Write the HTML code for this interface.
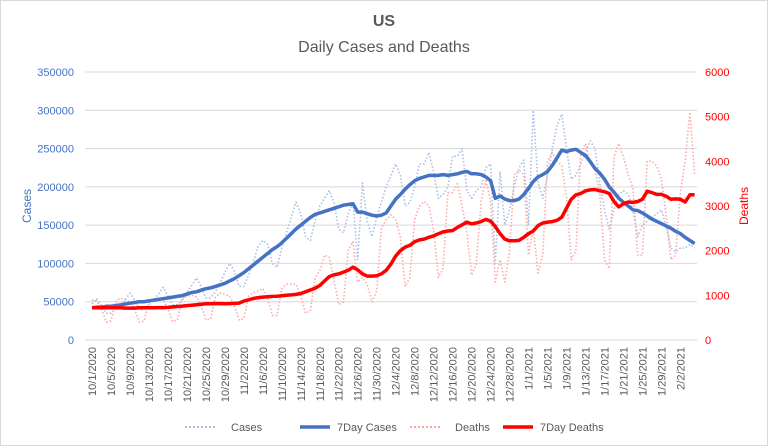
<!DOCTYPE html>
<html><head><meta charset="utf-8"><style>
body{margin:0;background:#fff;}
svg{display:block;font-family:"Liberation Sans",sans-serif;}
</style></head><body>
<svg id="chart" width="768" height="446" viewBox="0 0 768 446">
<rect x="0.5" y="0.5" width="767" height="445" fill="#fff" stroke="#d9d9d9"/>
<text x="384" y="26" text-anchor="middle" font-size="16" font-weight="bold" fill="#595959">US</text>
<text x="384" y="52" text-anchor="middle" font-size="16" fill="#595959">Daily Cases and Deaths</text>
<text transform="translate(31,206) rotate(-90)" text-anchor="middle" font-size="12" fill="#4472C4">Cases</text>
<text transform="translate(748,206) rotate(-90)" text-anchor="middle" font-size="12" fill="#FF0000">Deaths</text>
<g id="grid"></g><g id="xlabels"></g><g id="series"></g>
<g>
<line x1="185" y1="427" x2="215" y2="427" stroke="#A9BEE8" stroke-width="2" stroke-dasharray="2,2"/>
<text x="231" y="431" font-size="11" fill="#595959">Cases</text>
<line x1="300" y1="427" x2="330" y2="427" stroke="#4472C4" stroke-width="3.5"/>
<text x="337" y="431" font-size="11" fill="#595959">7Day Cases</text>
<line x1="410" y1="427" x2="440" y2="427" stroke="#FFA8A8" stroke-width="2" stroke-dasharray="2,2"/>
<text x="455" y="431" font-size="11" fill="#595959">Deaths</text>
<line x1="503" y1="427" x2="533" y2="427" stroke="#FF0000" stroke-width="3.5"/>
<text x="540" y="431" font-size="11" fill="#595959">7Day Deaths</text>
</g>
</svg>
<script>
const leftTicks=[0,50000,100000,150000,200000,250000,300000,350000];
const rightTicks=[0,1000,2000,3000,4000,5000,6000];
const months=[10,10,10,10,10,10,10,10,11,11,11,11,11,11,11,11,12,12,12,12,12,12,12,12,1,1,1,1,1,1,1,1,2,2];
const startLabel="10/1/2020";
const casesAvgK=[42,43,43,44,44,45,46,47,48,49,50,50,51,52,53,54,55,56,57,58,60,62,63,65,67,68,70,72,74,77,80,84,88,93,98,103,108,113,118,122,127,133,139,145,150,155,160,164,166,168,170,172,174,176,177,178,167,167,165,163,162,163,166,175,184,190,197,203,208,211,213,215,215,215,216,215,216,217,219,220,217,217,216,213,208,185,188,184,182,182,184,190,198,207,213,216,220,228,238,248,246,248,249,245,241,233,224,218,210,200,193,185,180,175,170,169,166,162,158,155,152,149,146,142,139,134,130,126];
const casesDailyK=[47,54,45,35,35,40,46,53,61,52,40,40,45,53,60,69,58,46,46,53,62,71,81,70,55,55,63,75,88,100,90,70,70,85,102,122,130,125,100,95,120,140,160,180,165,135,130,155,175,185,195,180,145,140,165,180,105,205,155,135,160,180,200,215,230,215,175,180,200,230,230,245,220,185,190,200,240,240,250,195,185,195,200,225,230,100,220,150,170,200,225,235,150,300,205,185,215,250,280,295,250,210,215,230,245,260,250,205,170,145,170,190,195,190,170,135,150,155,160,165,170,150,120,115,120,120,125,120];
const deathsAvg=[720,720,720,720,720,720,720,715,715,715,720,720,720,720,725,725,730,740,750,760,770,780,790,800,810,810,815,815,810,815,820,825,870,900,930,950,960,970,975,980,990,1000,1010,1020,1040,1080,1120,1160,1220,1320,1420,1460,1480,1520,1560,1630,1570,1480,1430,1430,1440,1480,1560,1700,1880,2000,2080,2120,2200,2240,2260,2300,2330,2380,2420,2440,2450,2520,2580,2640,2600,2620,2650,2700,2660,2540,2380,2260,2220,2220,2230,2300,2380,2440,2560,2620,2640,2650,2680,2750,2950,3150,3250,3280,3340,3360,3370,3340,3320,3280,3100,2980,3050,3090,3080,3100,3150,3330,3300,3260,3260,3220,3150,3160,3150,3090,3250,3250];
const deathsDaily=[900,870,690,400,430,860,940,890,860,680,395,430,860,930,920,900,700,410,450,900,980,1000,970,770,450,470,960,1050,1020,980,780,450,480,980,1060,1100,1150,950,550,550,1150,1250,1250,1250,1000,600,650,1400,1550,1900,1850,1350,800,850,2000,2200,1300,1400,1250,850,1100,2500,2700,2800,2700,2300,1200,1400,2700,3000,3100,3000,2450,1400,1600,3300,3300,3500,3000,2400,1450,1700,3100,3600,3100,1300,1800,1300,2000,3700,3800,3700,1900,2500,1500,1900,4000,4200,4000,3900,3200,1800,2000,4200,4400,4000,3800,3300,1800,1600,4100,4400,4100,3700,3400,1900,1900,4000,4000,3900,3600,2800,1800,1900,3300,4000,5100,3700];

const NS="http://www.w3.org/2000/svg";
const X0=92,DX=4.745,YB=340,H=268;
function xs(d){return X0+d*DX;}
function yl(v){return YB-v/350000*H;}
function yr(v){return YB-v/6000*H;}
function mk(t,a,p){const e=document.createElementNS(NS,t);for(const k in a)e.setAttribute(k,a[k]);(p||document.getElementById('series')).appendChild(e);return e;}
const grid=document.getElementById('grid');
leftTicks.forEach((v,i)=>{
  const l=mk('line',{x1:85,x2:697,y1:yl(v),y2:yl(v),stroke:'#d9d9d9','stroke-width':1},grid);
  
  
  const t=mk('text',{x:74,y:yl(v)+4,'text-anchor':'end','font-size':11,fill:'#4472C4'},grid);
  t.textContent=v;
  
  
});
rightTicks.forEach(v=>{
  const t=mk('text',{x:705,y:yr(v)+4,'font-size':11,fill:'#FF0000'},grid);
  t.textContent=v;
  
  
});
const xl=document.getElementById('xlabels');
const base=new Date(2020,9,1);
for(let d=0;d<casesAvgK.length;d+=4){
  const dt=new Date(base.getTime()+d*86400000);
  const s=(dt.getMonth()+1)+'/'+dt.getDate()+'/'+dt.getFullYear();
  const x=xs(d)+4;
  const t=mk('text',{transform:`translate(${x},347) rotate(-90)`,'text-anchor':'end','font-size':11,fill:'#595959'},xl);
  t.textContent=s;
  
  
}
function line(arr,fy,scale,attrs,name){
  const pts=arr.map((v,i)=>xs(i).toFixed(1)+','+fy(v*scale).toFixed(1)).join(' ');
  const p=mk('polyline',Object.assign({points:pts,fill:'none','stroke-linejoin':'round'},attrs));
  
  
}
line(casesDailyK,yl,1000,{stroke:'#A9BEE8','stroke-width':1.6,'stroke-dasharray':'1.5,2'},'cases-daily-line');
line(deathsDaily,yr,1,{stroke:'#FFA8A8','stroke-width':1.6,'stroke-dasharray':'1.5,2'},'deaths-daily-line');
line(casesAvgK,yl,1000,{stroke:'#4472C4','stroke-width':3.5},'cases-7day-line');
line(deathsAvg,yr,1,{stroke:'#FF0000','stroke-width':3.5},'deaths-7day-line');
</script>
</body></html>
